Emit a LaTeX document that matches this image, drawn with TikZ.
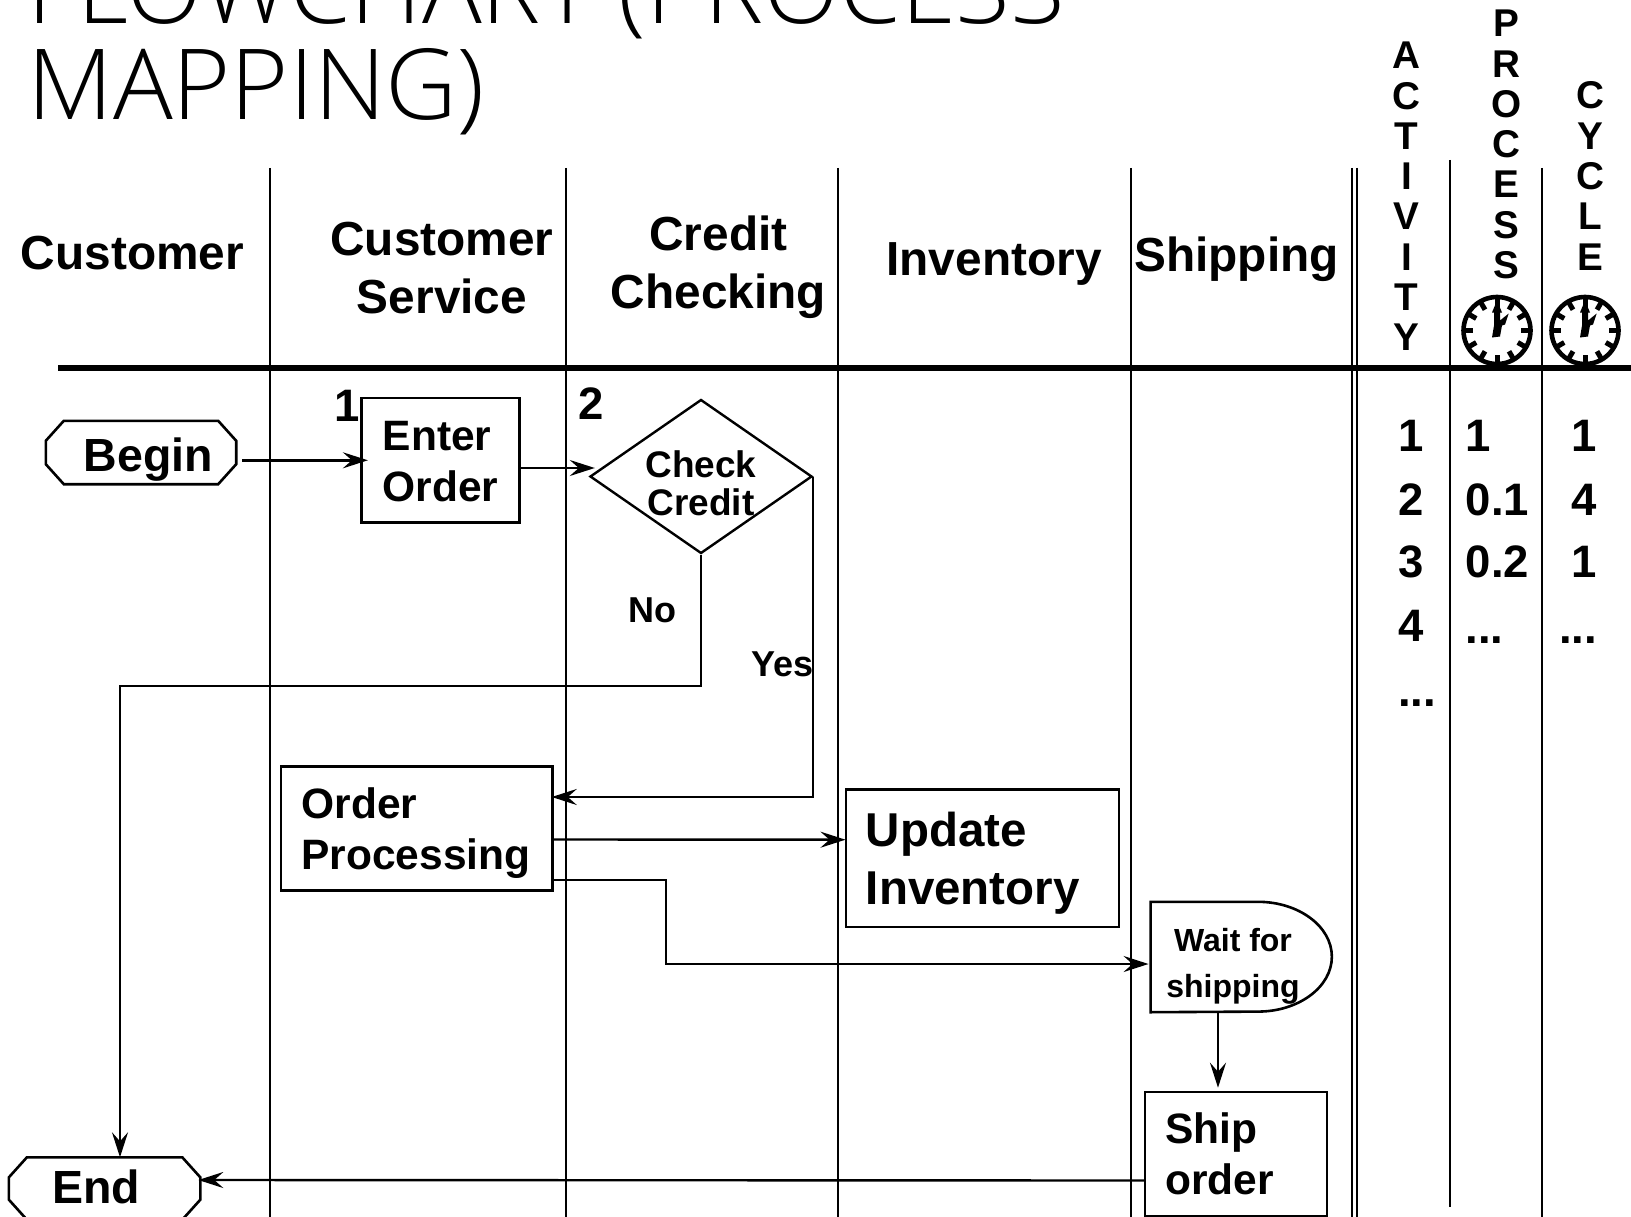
\documentclass[tikz,border=0pt]{standalone}
\usepackage{fontspec}
\setmainfont{Liberation Sans}
\newfontfamily\titlefont{Open Sans Light}
\usetikzlibrary{arrows.meta,positioning,calc,shapes.geometric}
\newcommand{\tdots}{...}
\newcommand{\octa}[1]{\draw[line width=2.6pt] ($(#1.north west)+(18,0)$) -- ($(#1.north east)+(-18,0)$) -- ($(#1.north east)+(0,20)$)
  -- ($(#1.south east)+(0,-20)$) -- ($(#1.south east)+(-18,0)$) -- ($(#1.south west)+(18,0)$) -- ($(#1.south west)+(0,-20)$) -- ($(#1.north west)+(0,20)$) -- cycle;}
\tikzset{
  >={Stealth[length=25pt,width=16pt,inset=9pt]},
  lane/.style={draw=black, line width=2.4pt},
  flow/.style={->, draw=black, line width=2.4pt},
  head/.style={font=\fontsize{47.8}{58}\selectfont\bfseries, align=center, inner sep=0pt},
  vhead/.style={font=\fontsize{38.7}{40.3}\selectfont\bfseries, align=center, inner sep=0pt},
  num/.style={font=\fontsize{45.5}{50}\selectfont\bfseries, inner sep=0pt, anchor=base},
  lbl/.style={font=\fontsize{36}{40}\selectfont\bfseries, inner sep=0pt},
  box/.style={draw=black, line width=2.6pt, align=left, inner ysep=0pt},
  term/.style={inner sep=0pt, font=\fontsize{46.5}{50}\selectfont\bfseries},
}
\begin{document}
\begin{tikzpicture}[x=1pt,y=-1pt]
    \useasboundingbox (0,0) rectangle (1631,1217);
    % title
    \node[font=\titlefont\fontsize{98}{96}\selectfont, align=left, anchor=south west, inner sep=0pt, xscale=1.015] (title) at (27,135)
      {FLOWCHART (PROCESS\\MAPPING)};
    % lanes
    \foreach \x/\t/\b in {270/168/1217,566/168/1217,838/168/1217,1131/168/1217,1352/168/1217,1357/168/1217,1450/160/1207,1542/168/1217}{
      \draw[lane] (\x,\t) -- (\x,\b);
    }
    \coordinate (ruleL) at (58,368);
    \coordinate (ruleR) at (1631,368);
    \draw[line width=5.4pt] (ruleL) -- (ruleR);
    % headers
    \node[head] (hcust) at (132.5,253) {Customer};
    \node[head] (hserv) at (442,268) {Customer\\Service};
    \node[head] (hcred) at (718.5,267) {Credit\\Checking};
    \node[head] (hinv) at (994,264) {Inventory};
    \node[head] (hship) at (1236.5,259) {Shipping};
    \node[vhead] (hact) at (1406.5,196.5) {A\\C\\T\\I\\V\\I\\T\\Y};
    \node[vhead] (hproc) at (1506.5,144.5) {P\\R\\O\\C\\E\\S\\S};
    \node[vhead] (hcyc) at (1590,176) {C\\Y\\C\\L\\E};
    % clocks
    \foreach \i/\cx in {1/1497,2/1585}{
      \node[circle,draw=black,line width=4.6pt,minimum size=67pt,inner sep=0pt] (clock\i) at (\cx,330.5) {};
      \foreach \a in {0,30,...,330}{
        \draw[line width=5pt] ($(clock\i)+(\a:33)$) -- ($(clock\i)+(\a:24)$);
      }
      \fill[shift={(clock\i)}] (0,-30) -- (5,-18) -- (3,-18) -- (3,-10) -- (11.7,-17) -- (8,-6) -- (5,-5)
        -- (3,6) -- (-5,7) -- (-3,-5) -- (-3,-18) -- (-5,-18) -- cycle;
    }
    % numbers
    \foreach \n/\x/\y in {1/1411/451.5,2/1411/515,3/1411/577.5,4/1411/641,\tdots/1417/706,
                          1/1478/451.5,0.1/1497.5/515,0.2/1497.5/577.5,\tdots/1484.5/643,
                          1/1584.5/451.5,4/1584.5/515,1/1584.5/577.5,\tdots/1578/643}{
      \node[num] at (\x,\y) {\n};
    }
    % steps
    \node[num] (stepa) at (347,421) {1};
    \node[num] (stepb) at (591,419) {2};
    \node[term,minimum width=190pt,minimum height=63pt] (begin) at (141,452.5) {\hspace*{15pt}\rule{0pt}{47pt}Begin};
    \octa{begin}
    \node[term,minimum width=191pt,minimum height=62pt] (finish) at (104.6,1188.5) {\hspace*{-16.6pt}\rule[-4pt]{0pt}{4pt}End};
    \octa{finish}
    \node[box,minimum width=158pt,minimum height=124.7pt,inner xsep=21.5pt,text width=115pt,
          font=\fontsize{42.5}{51}\selectfont\bfseries] (enter) at (440.2,460.3) {\rule{0pt}{31.5pt}Enter\\Order};
    \node[diamond,draw=black,line width=2.4pt,aspect=1.44,minimum width=222pt,minimum height=154pt,inner sep=0pt] (check) at (701,476.5) {};
    \node[align=center,inner sep=0pt,font=\fontsize{37}{38}\selectfont\bfseries] (checktxt) at ([yshift=-6.5pt]check) {Check\\Credit};
    \node[box,minimum width=271.5pt,minimum height=124pt,inner xsep=20.5pt,text width=230.5pt,
          font=\fontsize{42.5}{51}\selectfont\bfseries] (order) at (416.7,828.5) {\rule{0pt}{39pt}Order\\Processing};
    \node[box,minimum width=273pt,minimum height=137.5pt,inner xsep=20pt,text width=233pt,
          font=\fontsize{47.5}{58}\selectfont\bfseries] (update) at (982.3,858.2) {\rule{0pt}{44pt}Update\\Inventory};
    \node[minimum width=181.5pt,minimum height=110pt,inner sep=0pt] (wait) at (1241.5,957) {};
    \node[align=center,inner sep=0pt,font=\fontsize{32}{46}\selectfont\bfseries] (waittxt) at ([xshift=-8.5pt,yshift=-9pt]wait) {Wait for\\shipping};
    \draw[line width=2.6pt] (wait.north west) -- ++(107.3,0) arc[start angle=90,end angle=-90,x radius=74pt,y radius=54.9pt] -- (wait.south west) -- cycle;
    \node[box,minimum width=181.7pt,minimum height=124pt,inner xsep=20pt,text width=141.7pt,
          font=\fontsize{42.5}{51}\selectfont\bfseries] (ship) at (1236,1154) {Ship\\order};
    % connectors
    \draw[flow] ([xshift=6pt]begin.east |- enter.west) -- ([xshift=8pt]enter.west);
    \draw[flow] ([yshift=-7.7pt]enter.east) -- ([xshift=6pt,yshift=8.5pt]check.west);
    \coordinate (nobend) at (120,686);
    \draw[flow] (check.south) |- (nobend) -- ([xshift=15.4pt,yshift=0pt]finish.north);
    \draw[flow] (check.east) |- ([xshift=-2pt,yshift=31.5pt]order.east);
    \draw[flow] ([yshift=-11pt]order.east) -- ([xshift=1pt,yshift=18.5pt]update.west);
    \coordinate (waitbend) at (666,880);
    \draw[flow] ([yshift=-51.5pt]order.east) -- (waitbend) |- ([xshift=-2pt,yshift=-7pt]wait.west);
    \draw[flow] ([xshift=-23.5pt]wait.south) -- ([xshift=-18pt,yshift=3pt]ship.north);
    \draw[flow] ([yshift=-26.5pt]ship.west) -- ([xshift=-2pt,yshift=8.5pt]finish.east);
    \node[lbl] (lno) at (652,610) {No};
    \node[lbl] (lyes) at (782.5,664) {Yes};
\end{tikzpicture}
\end{document}
